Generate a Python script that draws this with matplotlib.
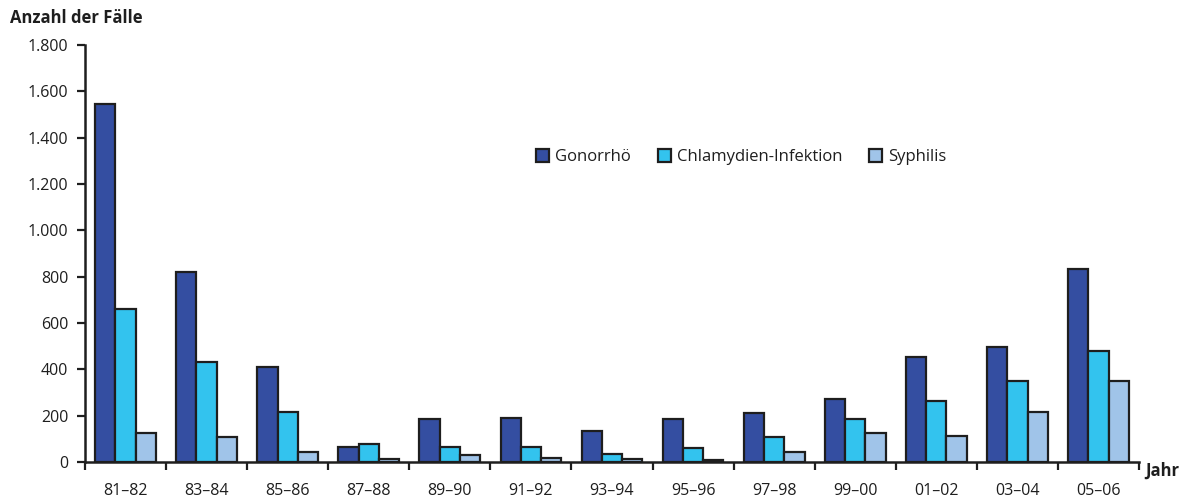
import matplotlib
matplotlib.use("Agg")
import matplotlib.pyplot as plt
import numpy as np

categories = ["81–82", "83–84", "85–86", "87–88", "89–90", "91–92", "93–94",
              "95–96", "97–98", "99–00", "01–02", "03–04", "05–06"]
gonorrhoe = [1545, 820, 410, 66, 187, 191, 135, 187, 213, 273, 454, 498, 832]
chlamydien = [660, 432, 217, 76, 65, 63, 36, 60, 109, 186, 263, 348, 479]
syphilis = [125, 109, 42, 14, 30, 17, 13, 8, 42, 126, 114, 215, 348]
series_names = ["Gonorrhö", "Chlamydien-Infektion", "Syphilis"]
yticks = [0, 200, 400, 600, 800, 1000, 1200, 1400, 1600, 1800]
ytick_labels = ["0", "200", "400", "600", "800", "1.000", "1.200", "1.400", "1.600", "1.800"]

colors = ["#344ea1", "#33c3ee", "#a0c4e9"]
edge = "#1e1e1e"

plt.rcParams['font.family'] = ['Open Sans', 'DejaVu Sans']

W, H = 1184, 504
fig = plt.figure(figsize=(W / 100, H / 100), dpi=100)
ax = fig.add_axes([85 / W, 42 / H, (1139 - 85) / W, (462 - 45) / H])

x = np.arange(len(categories))
bw = 0.25
for i, (vals, name) in enumerate(zip([gonorrhoe, chlamydien, syphilis], series_names)):
    ax.bar(x + (i - 1) * bw, vals, width=bw, color=colors[i], edgecolor=edge,
           linewidth=1.6, label=name, zorder=3)

ax.set_xlim(-0.5, len(categories) - 0.5)
ax.set_ylim(0, 1800)

for s in ["top", "right"]:
    ax.spines[s].set_visible(False)
for s in ["left", "bottom"]:
    ax.spines[s].set_linewidth(1.8)
    ax.spines[s].set_color("#1e1e1e")

ax.set_yticks(yticks)
ax.set_yticklabels(ytick_labels)
ax.tick_params(axis="y", direction="out", length=6, width=1.6, pad=6,
               labelsize=11.5, colors="#1e1e1e")

ax.set_xticks(np.arange(len(categories) + 1) - 0.5)
ax.set_xticklabels([])
ax.tick_params(axis="x", which="major", direction="out", length=6, width=1.6,
               colors="#1e1e1e")
ax.set_xticks(x, minor=True)
ax.set_xticklabels(categories, minor=True)
ax.tick_params(axis="x", which="minor", length=0, pad=15, labelsize=11.5,
               colors="#1e1e1e")

fig.text(10 / W, 1 - 18 / H, "Anzahl der Fälle", fontsize=12, fontweight="bold",
         va="center", ha="left", color="#1e1e1e")
fig.text(1145 / W, 1 - 471 / H, "Jahr", fontsize=12, fontweight="bold",
         va="center", ha="left", color="#1e1e1e")

leg = fig.legend(loc="center left", bbox_to_anchor=(536 / W, 1 - 157 / H),
                 ncol=3, frameon=False, fontsize=12, handlelength=0.8,
                 handleheight=0.8, handletextpad=0.35, columnspacing=1.6,
                 borderaxespad=0, borderpad=0)
for t in leg.get_texts():
    t.set_color("#1e1e1e")

fig.savefig("out.png", dpi=100)
